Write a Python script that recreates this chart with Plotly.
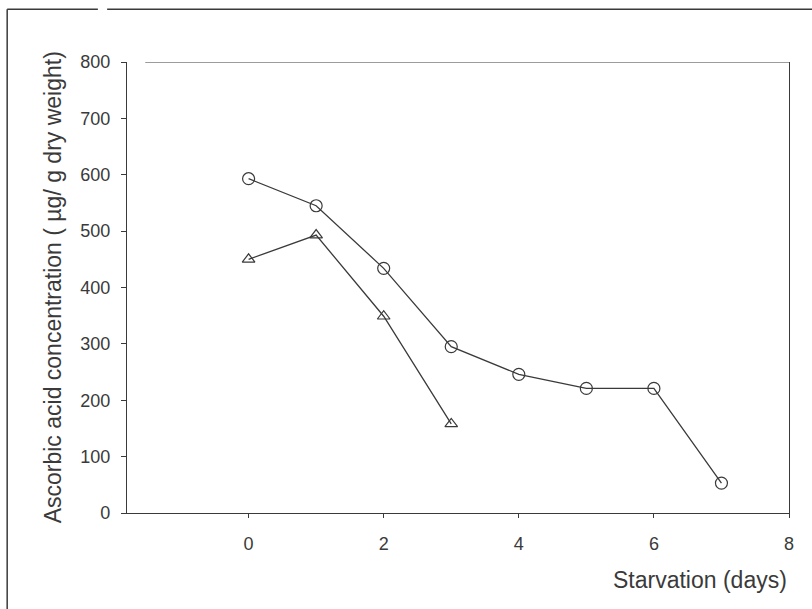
import plotly.graph_objects as go

days_circle = [0, 1, 2, 3, 4, 5, 6, 7]
conc_circle = [593, 545, 434, 295, 246, 221, 221, 53]
days_tri = [0, 1, 2, 3]
conc_tri = [450, 493, 349, 158]

x_ticks = [0, 2, 4, 6, 8]
y_ticks = [0, 100, 200, 300, 400, 500, 600, 700, 800]

ink = "#3a3a3a"
font = "Liberation Sans, Arial, sans-serif"

fig = go.Figure()
fig.add_trace(go.Scatter(
    x=days_circle, y=conc_circle, mode="lines+markers",
    line=dict(color=ink, width=1.3),
    marker=dict(symbol="circle-open", size=12, color=ink, line=dict(width=1.2)),
    showlegend=False, cliponaxis=False))
fig.add_trace(go.Scatter(
    x=days_tri, y=conc_tri, mode="lines+markers",
    line=dict(color=ink, width=1.3),
    marker=dict(symbol="triangle-up-open", size=11, color=ink, line=dict(width=1.2)),
    showlegend=False, cliponaxis=False))

fig.update_layout(
    width=812, height=609,
    margin=dict(l=127, r=23, t=62, b=96),
    paper_bgcolor="white", plot_bgcolor="white",
    font=dict(family=font, size=18, color=ink),
    xaxis=dict(range=[-1.8, 8], tickvals=x_ticks, showgrid=False, zeroline=False,
               showline=True, linecolor=ink, linewidth=1.3,
               ticks="outside", ticklen=4, tickcolor=ink, ticklabelstandoff=10,
               tickfont=dict(size=18)),
    yaxis=dict(range=[0, 800], tickvals=y_ticks, showgrid=False, zeroline=False,
               showline=True, linecolor=ink, linewidth=1.3, mirror=True,
               ticks="outside", ticklen=5, tickcolor=ink, ticklabelstandoff=7,
               tickfont=dict(size=18)),
    shapes=[
        dict(type="line", xref="x", yref="y", x0=-1.53, x1=8, y0=800, y1=800,
             line=dict(color=ink, width=1.2)),
        dict(type="line", xref="paper", yref="paper", x0=-0.181, x1=-0.181, y0=-0.22, y1=1.117,
             line=dict(color=ink, width=1.5)),
        dict(type="line", xref="paper", yref="paper", x0=-0.181, x1=-0.044, y0=1.117, y1=1.117,
             line=dict(color=ink, width=1.5)),
        dict(type="line", xref="paper", yref="paper", x0=-0.03, x1=1.04, y0=1.117, y1=1.117,
             line=dict(color=ink, width=1.5)),
    ],
    annotations=[
        dict(text="Starvation (days)", xref="paper", yref="paper", x=1.0, y=-0.148,
             xanchor="right", yanchor="middle", showarrow=False, font=dict(size=23, color=ink)),
        dict(text="Ascorbic acid concentration ( µg/ g dry weight)", xref="paper", yref="paper",
             x=-0.112, y=0.5, xanchor="center", yanchor="middle", textangle=-90,
             showarrow=False, font=dict(size=23, color=ink)),
    ],
)

fig.write_html("out.html")
